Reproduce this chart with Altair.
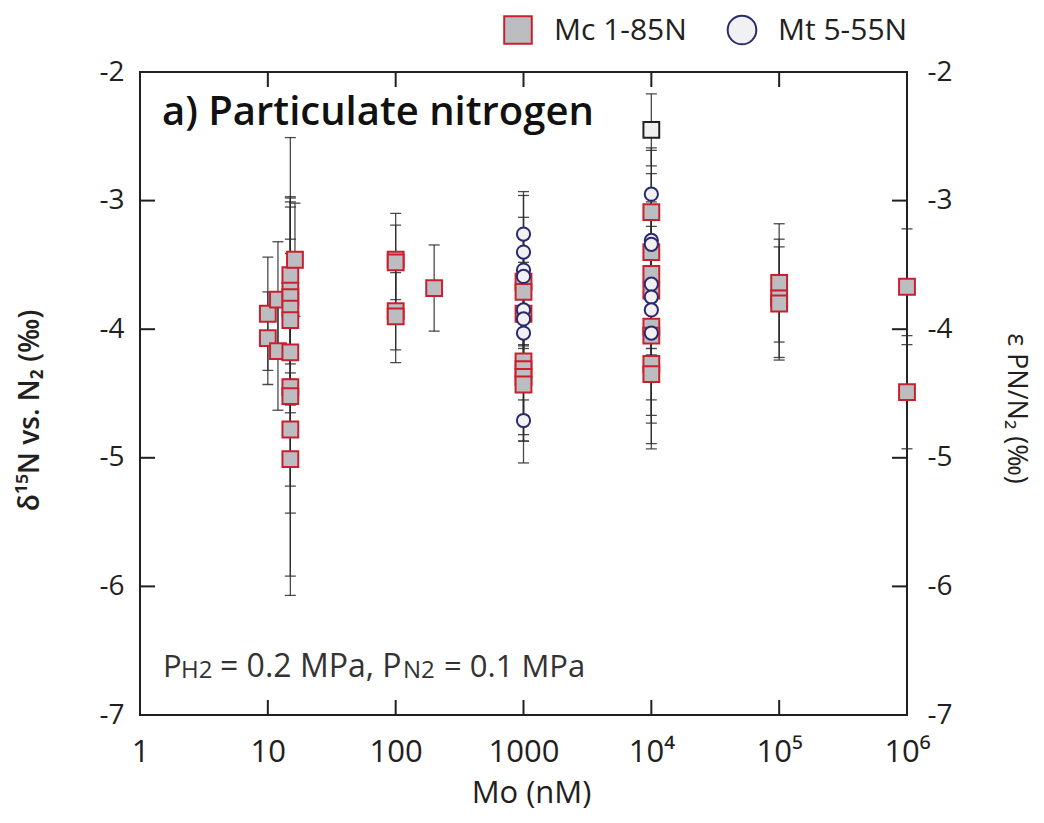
import altair as alt
import pandas as pd

# ---------------- data ----------------
mc_mo = [10, 10, 12, 12,
         15, 15, 15, 15, 15, 15, 15, 15, 15, 15, 16.3,
         100, 100, 100, 100, 200,
         1000, 1000, 1000, 1000, 1000, 1000, 1000,
         1e4, 1e4, 1e4, 1e4, 1e4, 1e4, 1e4, 1e4,
         1e5, 1e5, 1e5, 1e6, 1e6]
mc_val = [-3.88, -4.07, -3.77, -4.17,
          -3.58, -3.70, -3.75, -3.84, -3.93, -4.18, -4.45, -4.52, -4.78, -5.01, -3.46,
          -3.46, -3.48, -3.86, -3.90, -3.68,
          -3.63, -3.71, -3.88, -4.25, -4.31, -4.37, -4.43,
          -3.09, -3.40, -3.57, -3.70, -3.98, -4.05, -4.27, -4.35,
          -3.64, -3.76, -3.80, -3.67, -4.49]
mc_err = [0.44, 0.36, 0.45, 0.46,
          1.07, 0.69, 0.45, 0.43, 0.88, 0.21, 1.47, 1.55, 0.44, 0.42, 0.44,
          0.36, 0.29, 0.30, 0.36, 0.335,
          0.50, 0.41, 0.40, 0.62, 0.40, 0.45, 0.61,
          0.30, 0.30, 0.98, 0.50, 0.69, 0.68, 0.62, 0.58,
          0.46, 0.46, 0.44, 0.45, 0.44]

mt_mo = [1000] * 8 + [1e4] * 7
mt_val = [-3.26, -3.40, -3.54, -3.59, -3.85, -3.92, -4.03, -4.71,
          -2.95, -3.31, -3.34, -3.65, -3.75, -3.85, -4.03]
mt_err = [0.33, 0.44, 0.30, 0.30, 0.30, 0.30, 0.30, 0.16,
          0.34, 0.30, 0.30, 0.30, 0.30, 0.30, 0.30]

ex_mo = [1e4]
ex_val = [-2.45]
ex_err = [0.28]

x_ticks = [1, 10, 100, 1000, 1e4, 1e5, 1e6]
y_ticks = [-7, -6, -5, -4, -3, -2]

series_names = ["Mc 1-85N", "Mt 5-55N"]
panel_title = "a) Particulate nitrogen"
note_parts = ["P", "H2", "= 0.2 MPa, P", "N2", "= 0.1 MPa"]
x_title = "Mo (nM)"
y_title = "δ¹⁵N vs. N₂ (‰)"
y2_title = "ε PN/N₂ (‰)"

# ---------------- tables ----------------
def table(mo, val, err):
    return pd.DataFrame({"mo": mo, "val": val,
                         "lo": [v - e for v, e in zip(val, err)],
                         "hi": [v + e for v, e in zip(val, err)]})

mc = table(mc_mo, mc_val, mc_err)
mt = table(mt_mo, mt_val, mt_err)
ex = table(ex_mo, ex_val, ex_err)
allerr = pd.concat([mc, ex, mt], ignore_index=True)

W, H = 767, 643
FONT = "Open Sans"
INK = "#231f20"
TL = 15  # inward tick length

xs = alt.Scale(type="log", domain=[1, 1e6])
ys = alt.Scale(domain=[-7, -2])

x_axis = alt.Axis(orient="bottom", values=x_ticks, ticks=False, domain=False, grid=False,
                  labelFont=FONT, labelFontSize=31, labelColor=INK, labelPadding=22,
                  labelFlush=False,
                  labelExpr="datum.value < 1e4 ? format(datum.value, 'd') : '10' + (datum.value < 1e5 ? '⁴' : datum.value < 1e6 ? '⁵' : '⁶')",
                  title=x_title, titleFont=FONT, titleFontSize=31, titleFontWeight="normal",
                  titleColor=INK, titleX=391, titleY=63)
yl_axis = alt.Axis(orient="left", values=y_ticks, ticks=False, domain=False, grid=False,
                   labelFont=FONT, labelFontSize=28, labelColor=INK, labelPadding=16,
                   labelExpr="'-' + abs(datum.value)",
                   title=y_title, titleFont=FONT, titleFontSize=28, titleFontWeight=600,
                   titleColor=INK, titleX=-96, titleY=338)
yr_axis = alt.Axis(orient="right", values=y_ticks, ticks=False, domain=False, grid=False,
                   labelFont=FONT, labelFontSize=28, labelColor=INK, labelPadding=20,
                   labelExpr="'-' + abs(datum.value)",
                   title=y2_title, titleFont=FONT, titleFontSize=27, titleFontWeight="normal",
                   titleColor=INK, titleX=94, titleY=336)

xt = pd.DataFrame({"v": x_ticks})
yt = pd.DataFrame({"v": y_ticks})

tick_b = alt.Chart(xt).mark_rule(color=INK, strokeWidth=2).encode(
    x=alt.X("v:Q", scale=xs, axis=x_axis), y=alt.value(H), y2=alt.value(H - TL))
tick_t = alt.Chart(xt).mark_rule(color=INK, strokeWidth=2).encode(
    x=alt.X("v:Q", scale=xs, axis=None), y=alt.value(0), y2=alt.value(TL))
tick_l = alt.Chart(yt).mark_rule(color=INK, strokeWidth=2).encode(
    y=alt.Y("v:Q", scale=ys, axis=yl_axis), x=alt.value(0), x2=alt.value(TL))
tick_r = alt.Chart(yt).mark_rule(color=INK, strokeWidth=2).encode(
    y=alt.Y("v:Q", scale=ys, axis=yr_axis), x=alt.value(W - TL), x2=alt.value(W))

bars = alt.Chart(allerr).mark_errorbar(
    ticks={"size": 11, "thickness": 1.3}, color="#2a2a2a", thickness=1.3, opacity=0.85
).encode(
    x=alt.X("mo:Q", scale=xs, axis=None),
    y=alt.Y("lo:Q", scale=ys, axis=None),
    y2="hi:Q")

pt_mc = alt.Chart(mc).mark_point(shape="square", filled=True, size=250, fill="#bcbdc0",
                                  stroke="#c8202e", strokeWidth=2, opacity=1).encode(
    x=alt.X("mo:Q", scale=xs, axis=None), y=alt.Y("val:Q", scale=ys, axis=None))
pt_ex = alt.Chart(ex).mark_point(shape="square", filled=True, size=250, fill="#f0f0f0",
                                  stroke=INK, strokeWidth=2, opacity=1).encode(
    x=alt.X("mo:Q", scale=xs, axis=None), y=alt.Y("val:Q", scale=ys, axis=None))
pt_mt = alt.Chart(mt).mark_point(shape="circle", filled=True, size=175, fill="#f1f1f4",
                                  stroke="#2a2a6e", strokeWidth=2, opacity=1).encode(
    x=alt.X("mo:Q", scale=xs, axis=None), y=alt.Y("val:Q", scale=ys, axis=None))

one = pd.DataFrame({"k": [0]})

def txt(s, x, y, size, weight="normal", color=INK):
    return alt.Chart(pd.DataFrame({"t": [s]})).mark_text(
        align="left", baseline="alphabetic", font=FONT, fontSize=size,
        fontWeight=weight, color=color).encode(
        text="t:N", x=alt.value(x), y=alt.value(y))

title_t = txt(panel_title, 22, 53, 40, 600, "#111111")
n1 = txt(note_parts[0], 23, 605, 31, color="#333333")
n2 = txt(note_parts[1], 41, 606, 24, color="#333333")
n3 = txt(note_parts[2], 80, 605, 32, color="#333333")
n4 = txt(note_parts[3], 263, 606, 24, color="#333333")
n5 = txt(note_parts[4], 304, 605, 31, color="#333333")

# legend (drawn as marks above the plot)
leg_sq = alt.Chart(one).mark_point(shape="square", filled=True, size=760, fill="#bcbdc0",
                                    stroke="#c8202e", strokeWidth=2, opacity=1).encode(
    x=alt.value(378), y=alt.value(-42))
leg_ci = alt.Chart(one).mark_point(shape="circle", filled=True, size=820, fill="#f1f1f4",
                                    stroke="#2a2a6e", strokeWidth=2, opacity=1).encode(
    x=alt.value(602), y=alt.value(-42))
leg_t1 = alt.Chart(pd.DataFrame({"t": [series_names[0]]})).mark_text(
    align="left", baseline="middle", font=FONT, fontSize=30, color=INK).encode(
    text="t:N", x=alt.value(414), y=alt.value(-41))
leg_t2 = alt.Chart(pd.DataFrame({"t": [series_names[1]]})).mark_text(
    align="left", baseline="middle", font=FONT, fontSize=30, color=INK).encode(
    text="t:N", x=alt.value(638), y=alt.value(-41))

chart = alt.layer(
    tick_b, tick_t, tick_l, tick_r, bars, pt_mc, pt_ex, pt_mt,
    title_t, n1, n2, n3, n4, n5, leg_sq, leg_ci, leg_t1, leg_t2
).resolve_axis(x="independent", y="independent").properties(
    width=W, height=H,
    autosize=alt.AutoSizeParams(type="none"),
    padding={"left": 132, "top": 64, "right": 129, "bottom": 100},
    background="white"
).configure_view(stroke=INK, strokeWidth=2)

chart.save("out.html", embed_options={"renderer": "svg", "actions": False})
